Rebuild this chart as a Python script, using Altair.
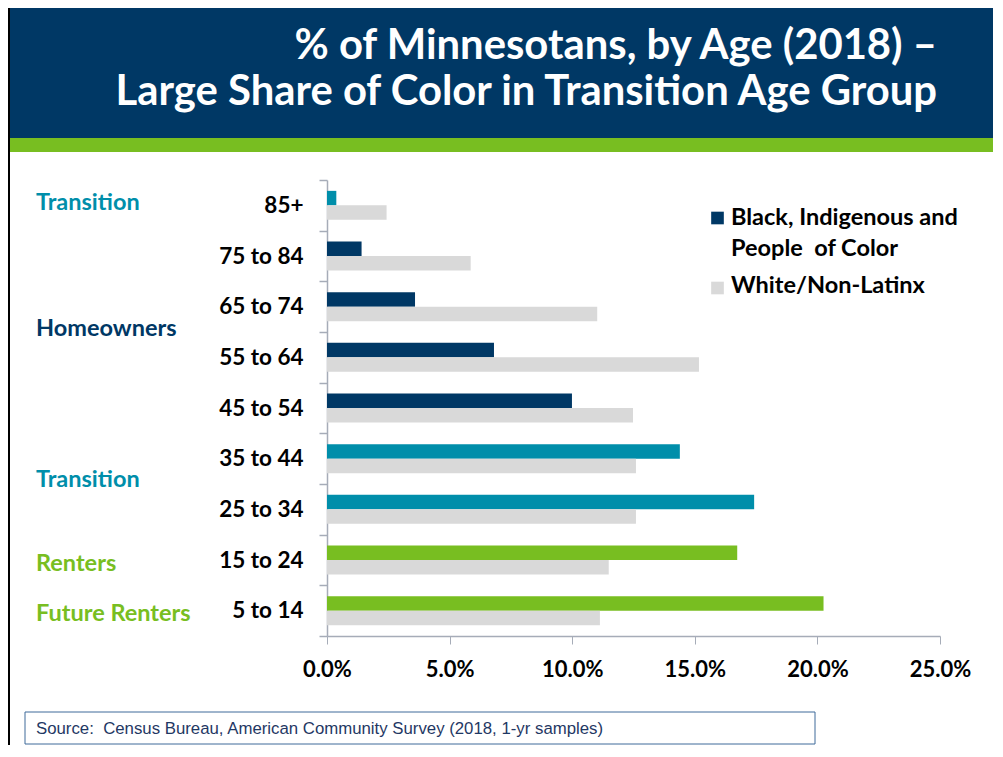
import altair as alt
import pandas as pd

# ---------------- data ----------------
ages = ["85+", "75 to 84", "65 to 74", "55 to 64", "45 to 54",
        "35 to 44", "25 to 34", "15 to 24", "5 to 14"]
bipoc_pct = [0.38, 1.41, 3.59, 6.81, 9.99, 14.39, 17.42, 16.73, 20.25]
white_pct = [2.43, 5.86, 11.02, 15.17, 12.48, 12.60, 12.60, 11.49, 11.13]
age_group = ["Transition", "Homeowners", "Homeowners", "Homeowners", "Homeowners",
             "Transition", "Transition", "Renters", "Renters"]
series_names = ["Black, Indigenous and People  of Color", "White/Non-Latinx"]
x_ticks = [0.0, 0.05, 0.10, 0.15, 0.20, 0.25]

title_lines = ["% of Minnesotans, by Age (2018) \u2013",
               "Large Share of Color in Transition Age Group"]
legend_lines = ["Black, Indigenous and", "People \u00a0of Color"]
source_text = "Source:\u00a0 Census Bureau, American Community Survey (2018, 1-yr samples)"

# ---------------- styles ----------------
FONT = "Lato"
NAVY = "#003865"
TEAL = "#008EAA"
GREEN = "#78BE21"
GREY = "#D9D9D9"
AXIS_C = "#A6ACB8"
fill_domain = ["Homeowners", "Transition", "Renters", "White"]
fill_range = [NAVY, TEAL, GREEN, GREY]

rows = []
for a, b, w, g in zip(ages, bipoc_pct, white_pct, age_group):
    rows.append({"age": a, "series": series_names[0], "value": b / 100, "fill": g})
    rows.append({"age": a, "series": series_names[1], "value": w / 100, "fill": "White"})
df = pd.DataFrame(rows)

bars = alt.Chart(df).mark_bar().encode(
    x=alt.X("value:Q",
            scale=alt.Scale(domain=[0, 0.25], nice=False),
            axis=alt.Axis(values=x_ticks, format=".1%", title=None, grid=False,
                          tickSize=8, labelPadding=15, labelFontSize=22, labelFlush=False,
                          labelFont=FONT, labelFontWeight="bold", labelColor="black",
                          domainColor=AXIS_C, tickColor=AXIS_C, domainWidth=1.5)),
    y=alt.Y("age:N", sort=ages,
            scale=alt.Scale(paddingInner=0, paddingOuter=0),
            axis=alt.Axis(title=None, tickBand="extent", tickSize=8, labelPadding=16,
                          labelFontSize=22.5, labelFont=FONT, labelFontWeight="bold",
                          labelColor="black", domainColor=AXIS_C, tickColor=AXIS_C,
                          domainWidth=1.5, tickWidth=1.5)),
    yOffset=alt.YOffset("series:N", sort=series_names,
                        scale=alt.Scale(paddingOuter=0.75, paddingInner=0)),
    color=alt.Color("fill:N", scale=alt.Scale(domain=fill_domain, range=fill_range),
                    legend=None),
    tooltip=["age:N", "series:N", alt.Tooltip("value:Q", format=".1%")],
)

one = pd.DataFrame({"k": [0]})


def txt(s, x, y, size, color, align="left", font=FONT, weight="bold", lh=None):
    kw = dict(text=s, align=align, baseline="alphabetic", fontSize=size,
              font=font, fontWeight=weight, color=color)
    if lh:
        kw["lineHeight"] = lh
    return alt.Chart(one).mark_text(**kw).encode(x=alt.value(x), y=alt.value(y))


def rect(x, x2, y, y2, fill, stroke=None, sw=0):
    kw = dict(color=fill)
    if stroke:
        kw.update(stroke=stroke, strokeWidth=sw)
    return alt.Chart(one).mark_rect(**kw).encode(
        x=alt.value(x), x2=alt.value(x2), y=alt.value(y), y2=alt.value(y2))


banner = rect(-330, 700, -172, -42, NAVY)
strip = rect(-330, 700, -42, -28, GREEN)
left_line = alt.Chart(one).mark_rule(color="black", strokeWidth=2).encode(
    x=alt.value(-318), y=alt.value(-172), y2=alt.value(570))
source_box = rect(-302, 488, 532, 564, "white", stroke="#3F6A9A", sw=1)

texts = [
    txt(title_lines, 610, -121, 41.8, "white", align="right", lh=45.5),
    txt("Transition", -291, 30, 23.5, TEAL),
    txt("Homeowners", -291, 156, 23.5, NAVY),
    txt("Transition", -291, 307, 23.5, TEAL),
    txt("Renters", -291, 391, 23.5, GREEN),
    txt("Future Renters", -291, 441, 23.5, GREEN),
    txt(legend_lines, 404, 45, 23.5, "black", lh=31),
    txt(series_names[1], 404, 113, 23.5, "black"),
    txt(source_text, -291, 554, 16.8, "#1F3864", font="Liberation Sans", weight="normal"),
]

legend_squares = [
    alt.Chart(one).mark_square(size=160, color=NAVY, opacity=1).encode(
        x=alt.value(390.5), y=alt.value(38)),
    alt.Chart(one).mark_square(size=160, color=GREY, opacity=1).encode(
        x=alt.value(390.5), y=alt.value(108)),
]

chart = alt.layer(banner, strip, left_line, source_box, bars, *legend_squares, *texts).properties(
    width=613,
    height=456,
    autosize=alt.AutoSizeParams(type="none"),
    padding={"left": 319, "top": 172, "right": 53, "bottom": 109},
    background="white",
).configure_view(stroke=None)

chart.save("out.html", embed_options={"renderer": "svg", "actions": False})
